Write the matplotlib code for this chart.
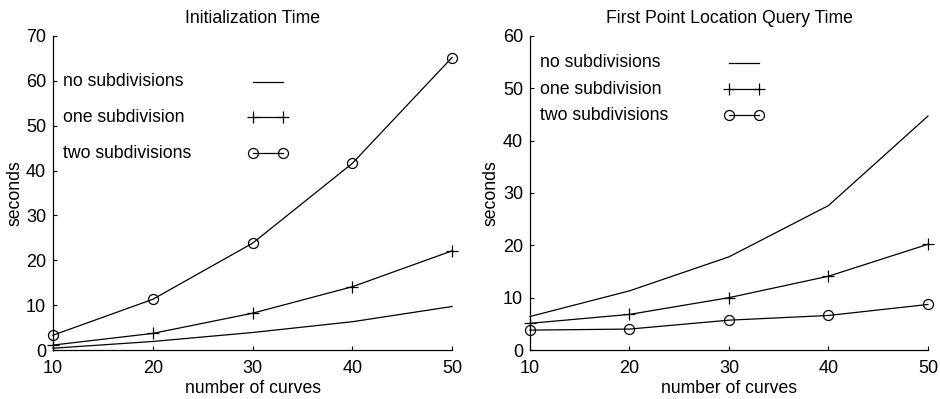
import matplotlib
matplotlib.use("Agg")
import matplotlib.pyplot as plt

plt.rcParams["font.family"] = ["Liberation Sans", "DejaVu Sans"]

# --- data ---
curves = [10, 20, 30, 40, 50]

init_none = [0.4, 1.9, 3.9, 6.3, 9.7]
init_one = [1.1, 3.7, 8.2, 14.1, 22.1]
init_two = [3.3, 11.3, 23.8, 41.6, 65.2]

query_none = [6.4, 11.3, 17.8, 27.6, 44.7]
query_one = [5.1, 6.8, 10.0, 14.1, 20.2]
query_two = [3.8, 4.0, 5.7, 6.6, 8.7]

labels = ["no subdivisions", "one subdivision", "two subdivisions"]
titles = ["Initialization Time", "First Point Location Query Time"]
ymax = [70, 60]

# gnuplot-style key: label text left-aligned, line sample to the right
# (axes fractions for text x, sample start/end, and row heights)
key_left = dict(tx=0.025, lx=(0.501, 0.576), rows=(0.854, 0.742, 0.627))
key_right = dict(tx=0.025, lx=(0.500, 0.575), rows=(0.915, 0.831, 0.748))

styles = [
    dict(marker=None),
    dict(marker="+", markersize=8, markeredgewidth=0.9),
    dict(marker="o", markersize=7.2, markerfacecolor="none", markeredgewidth=0.9),
]

FS = 12.7
LW = 0.9

fig = plt.figure(figsize=(9.4, 3.99), dpi=100)
ax1 = fig.add_axes([0.0564, 0.1228, 0.4245, 0.787])
ax2 = fig.add_axes([0.5638, 0.1228, 0.4234, 0.787])

panels = [
    (ax1, [init_none, init_one, init_two], key_left),
    (ax2, [query_none, query_one, query_two], key_right),
]

for i, (ax, series, key) in enumerate(panels):
    for ys, st, lab, ry in zip(series, styles, labels, key["rows"]):
        ax.plot(curves, ys, color="black", lw=LW, clip_on=False, zorder=3, **st)
        # key entry
        ax.text(key["tx"], ry, lab, transform=ax.transAxes, fontsize=FS,
                ha="left", va="center")
        ax.plot(key["lx"], [ry, ry], transform=ax.transAxes, color="black",
                lw=LW, clip_on=False, **st)

    ax.set_xlim(10, 50)
    ax.set_ylim(0, ymax[i])
    ax.set_xticks(curves)
    ax.set_yticks(range(0, ymax[i] + 1, 10))
    ax.spines["top"].set_visible(False)
    ax.spines["right"].set_visible(False)
    ax.spines["left"].set_linewidth(LW)
    ax.spines["bottom"].set_linewidth(LW)
    ax.tick_params(direction="in", length=3, width=0.8, labelsize=13)
    ax.tick_params(axis="x", pad=7)
    ax.tick_params(axis="y", pad=5)
    ax.set_title(titles[i], fontsize=FS, pad=9)
    ax.set_xlabel("number of curves", fontsize=FS, labelpad=2)
    ax.set_ylabel("seconds", fontsize=FS, labelpad=2)

fig.savefig("out.png", dpi=100)
